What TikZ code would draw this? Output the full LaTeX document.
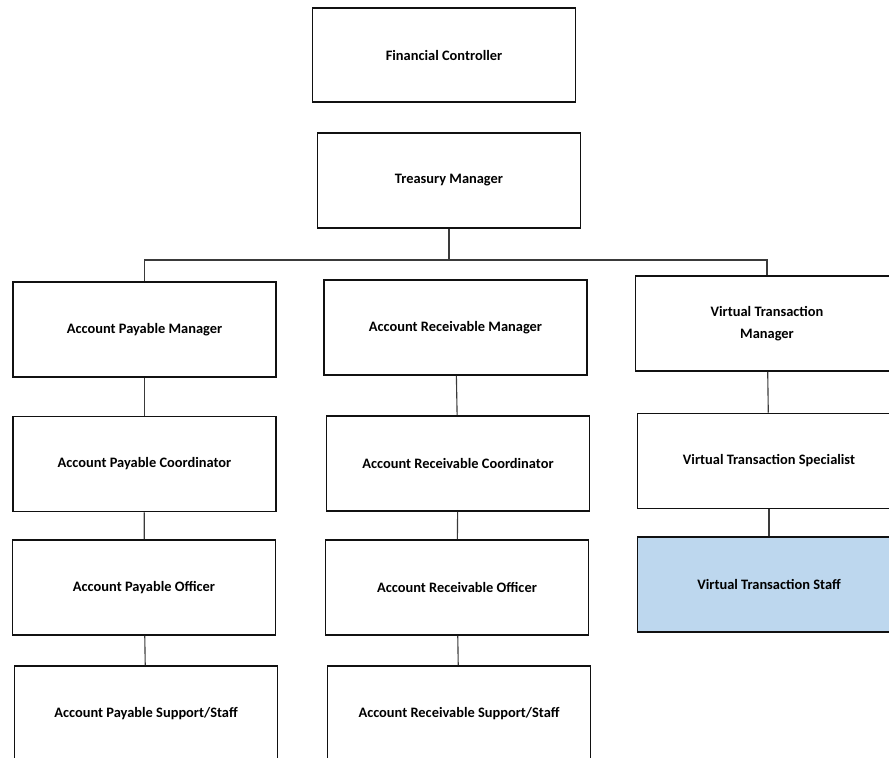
\documentclass[tikz,border=0pt]{standalone}
\usepackage{fontspec}
\setmainfont{Carlito}
\usepackage{xcolor}
\usepackage{tikz}
\usetikzlibrary{positioning,calc}
\definecolor{orgBlack}{HTML}{111111}
\definecolor{orgLine}{HTML}{3A3A3A}
\definecolor{orgBlueL}{HTML}{BDD7EE}
\definecolor{orgWhite}{HTML}{FFFFFF}
\tikzset{
  org-box/.style={
    draw=orgBlack, line width=1.3pt, fill=orgWhite,
    font=\fontsize{12.3}{19}\selectfont\bfseries, align=center,
    minimum width=7.9cm, minimum height=2.85cm, inner sep=4pt
  },
  org-blue/.style={org-box, fill=orgBlueL},
  org-line/.style={line width=0.95pt, draw=orgLine}
}

\begin{document}
\begin{tikzpicture}[x=0.03cm, y=-0.03cm]
\path[use as bounding box] (0,0) rectangle (889,758);
\clip (0,0) rectangle (889,758);

% top of the chart
\node[org-box, minimum height=2.82cm] (fc) at (444,55) {Financial Controller};
\node[org-box] (tm) at (449,180.5) {Treasury Manager};
\coordinate (bus) at (449,260);

% payable column
\node[org-box] (apm) at (144.5,329.5) {Account Payable Manager};
\node[org-box] (apc) at (144.5,464) {Account Payable Coordinator};
\node[org-box] (apo) at (144,587.5) {Account Payable Officer};
\node[org-box] (aps) at (146,713.5) {Account Payable Support/Staff};

% receivable column
\node[org-box] (arm) at (455.5,327.5) {Account Receivable Manager};
\node[org-box] (arc) at (458,463.5) {Account Receivable Coordinator};
\node[org-box] (aro) at (457,587.5) {Account Receivable Officer};
\node[org-box] (ars) at (459,713.5) {Account Receivable Support/Staff};

% virtual column
\node[org-box] (vtm) at (767,323.5) {Virtual Transaction\\ Manager};
\node[org-box] (vts) at (769,461) {Virtual Transaction Specialist};
\node[org-blue] (vtst) at (769,584.5) {Virtual Transaction Staff};

\draw[org-line] (tm) -- (bus);
\draw[org-line] (apm.north) |- (bus) -| (vtm.north);
\draw[org-line] (apm) -- (apc);
\draw[org-line] (apc) -- (apo);
\draw[org-line] (apo) -- (aps);
\draw[org-line] (arm) -- (arc);
\draw[org-line] (arc) -- (aro);
\draw[org-line] (aro) -- (ars);
\draw[org-line] (vtm) -- (vts);
\draw[org-line] (vts) -- (vtst);
\end{tikzpicture}
\end{document}
